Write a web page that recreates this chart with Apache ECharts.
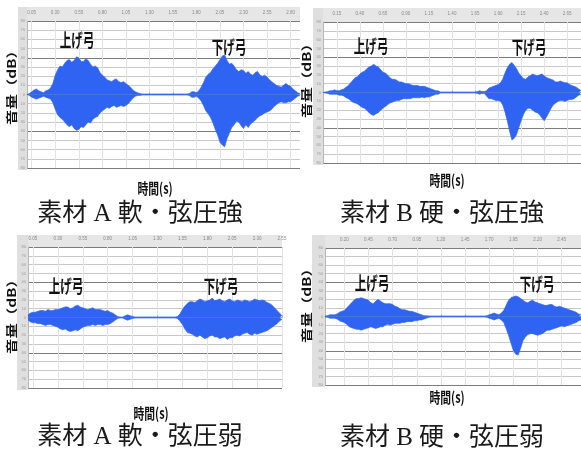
<!DOCTYPE html>
<html>
<head>
<meta charset="utf-8">
<script src="https://cdn.jsdelivr.net/npm/echarts@6/dist/echarts.min.js"></script>
<style>
  html, body { margin: 0; padding: 0; background: #fff; }
  #chart { width: 581px; height: 456px; }
</style>
</head>
<body>
<div id="chart"></div>
<script>
// Waveform envelopes (upper / lower peak level per sample), one pair per recording.
// 素材 A 軟・弦圧強
const upperSoftStrong = [
  0, 1, 3, 5, 6, 4, 3, 2, 4, 5, 7, 12, 21, 27, 31, 30, 34, 37, 38, 35,
  37, 41, 40, 36, 36, 39, 37, 33, 30, 31, 29, 24, 21, 19, 16, 15, 14, 16, 17, 14,
  13, 14, 12, 10, 8, 5, 3, 2, 1, 0.6,
  0.6, 0.6, 0.6, 0.6, 0.6, 0.6, 0.6, 0.6, 0.6, 0.6, 0.6, 0.6, 0.6, 0.6, 0.6, 0.6, 0.6, 0.6, 0.6, 1,
  3, 3, 2, 4, 8, 13, 19, 22, 24, 28, 31, 34, 38, 42, 43, 37, 33, 34, 31, 27,
  25, 27, 26, 23, 25, 22, 21, 24, 25, 21, 20, 21, 19, 16, 14, 12, 10, 9, 8, 10,
  12, 10, 9, 6, 4, 2, 1];
const lowerSoftStrong = [
  0, -1, -3, -4, -5, -4, -3, -2, -3, -4, -5, -9, -16, -22, -25, -27, -30, -33, -35, -33,
  -37, -39, -38, -35, -36, -33, -30, -31, -27, -25, -24, -20, -18, -16, -14, -15, -13, -12, -14, -13,
  -12, -13, -12, -10, -7, -4, -2, -1, -1, -0.6,
  -0.6, -0.6, -0.6, -0.6, -0.6, -0.6, -0.6, -0.6, -0.6, -0.6, -0.6, -0.6, -0.6, -0.6, -0.6, -0.6, -0.6, -0.6, -0.6, -1,
  -3, -3, -2, -4, -7, -12, -18, -21, -25, -31, -38, -44, -52, -55, -57, -48, -42, -36, -33, -29,
  -30, -34, -37, -33, -36, -32, -30, -28, -25, -23, -22, -20, -19, -18, -16, -13, -11, -9, -8, -9,
  -9, -8, -8, -6, -4, -2, -1];

// 素材 B 硬・弦圧強
const upperHardStrong = [
  0, 0.6, 1, 2, 2, 3, 2, 2, 3, 4, 6, 8, 11, 14, 17, 18, 21, 23, 24, 27,
  29, 30, 32, 30, 29, 26, 23, 22, 20, 17, 15, 15, 14, 12, 12, 11, 10, 10, 9, 8,
  8, 8, 7, 7, 7, 6, 5, 4, 3, 2, 2, 0.6,
  0.6, 0.6, 0.6, 0.6, 0.6, 0.6, 0.6, 0.6, 0.6, 0.6, 0.6, 0.6, 0.6, 0.6, 0.6, 1,
  2, 1, 1, 2, 5, 6, 7, 8, 9, 11, 15, 22, 28, 32, 34, 31, 27, 22, 19, 16,
  15, 18, 19, 21, 20, 19, 20, 21, 19, 17, 16, 15, 14, 12, 12, 13, 12, 11, 11, 9,
  8, 7, 6, 4, 2];
const lowerHardStrong = [
  0, -0.6, -1, -2, -2, -2, -2, -3, -3, -4, -6, -7, -9, -11, -12, -13, -15, -17, -18, -20,
  -23, -25, -26, -24, -23, -20, -18, -16, -14, -12, -11, -10, -9, -9, -8, -7, -7, -7, -7, -6,
  -6, -6, -6, -5, -6, -5, -5, -4, -3, -2, -2, -0.6,
  -0.6, -0.6, -0.6, -0.6, -0.6, -0.6, -0.6, -0.6, -0.6, -0.6, -0.6, -0.6, -0.6, -0.6, -0.6, -1,
  -2, -1, -1, -4, -7, -7, -8, -9, -9, -10, -14, -22, -32, -44, -54, -52, -48, -40, -32, -25,
  -20, -18, -18, -20, -22, -23, -25, -29, -32, -28, -23, -18, -14, -12, -10, -9, -9, -10, -9, -8,
  -8, -7, -5, -3, -2];

// 素材 A 軟・弦圧弱
const upperSoftWeak = [
  3, 5, 6, 6, 7, 8, 8, 7, 9, 8, 8, 9, 9, 10, 11, 12, 12, 10, 11, 13,
  14, 12, 11, 10, 9, 10, 11, 9, 9, 9, 8, 7, 8, 6, 5, 3, 1, 0.6, 0.6, 2,
  3, 2, 1, 0.6,
  0.6, 0.6, 0.6, 0.6, 0.6, 0.6, 0.6, 0.6, 0.6, 0.6, 0.6, 0.6, 0.6, 0.6, 0.6, 0.6,
  1, 4, 9, 13, 16, 18, 18, 17, 19, 21, 20, 18, 19, 20, 22, 19, 20, 21, 19, 18,
  20, 21, 19, 18, 20, 19, 18, 20, 19, 18, 19, 21, 20, 19, 20, 19, 17, 16, 14, 11,
  8, 5, 2];
const lowerSoftWeak = [
  -3, -5, -6, -6, -7, -7, -8, -9, -8, -8, -9, -10, -11, -13, -14, -13, -15, -16, -15, -14,
  -15, -13, -11, -10, -9, -9, -8, -9, -8, -8, -9, -8, -8, -7, -5, -3, -1, -0.6, -0.6, -2,
  -3, -2, -1, -0.6,
  -0.6, -0.6, -0.6, -0.6, -0.6, -0.6, -0.6, -0.6, -0.6, -0.6, -0.6, -0.6, -0.6, -0.6, -0.6, -0.6,
  -1, -4, -8, -13, -17, -18, -19, -21, -22, -20, -22, -24, -23, -21, -20, -22, -22, -24, -23, -22,
  -25, -23, -23, -21, -20, -21, -19, -18, -17, -19, -20, -18, -19, -18, -17, -16, -15, -13, -11, -9,
  -7, -4, -2];

// 素材 B 硬・弦圧弱
const upperHardWeak = [
  0.6, 1, 2, 2, 2, 3, 5, 6, 7, 10, 13, 16, 19, 21, 21, 22, 21, 20, 19, 16,
  15, 18, 20, 18, 16, 15, 15, 15, 14, 12, 11, 9, 8, 8, 7, 6, 6, 5, 4, 3,
  2, 1, 1, 0.6,
  0.6, 0.6, 0.6, 0.6, 0.6, 0.6, 0.6, 0.6, 0.6, 0.6, 0.6, 0.6, 0.6, 0.6, 0.6, 0.6, 0.6, 0.6, 0.6, 0.6, 0.6, 0.6, 0.6, 1,
  2, 3, 4, 3, 2, 4, 7, 13, 19, 22, 23, 24, 23, 21, 19, 17, 16, 18, 19, 17,
  16, 15, 14, 13, 13, 14, 14, 12, 11, 12, 11, 10, 9, 8, 7, 6, 5, 3,
  2];
const lowerHardWeak = [
  -0.6, -1, -2, -2, -2, -3, -5, -6, -7, -9, -12, -13, -14, -15, -15, -16, -15, -14, -13, -12,
  -13, -14, -13, -12, -12, -10, -9, -10, -9, -8, -8, -8, -7, -7, -6, -6, -6, -5, -5, -4,
  -4, -3, -2, -1,
  -0.6, -0.6, -0.6, -0.6, -0.6, -0.6, -0.6, -0.6, -0.6, -0.6, -0.6, -0.6, -0.6, -0.6, -0.6, -0.6, -0.6, -0.6, -0.6, -0.6, -0.6, -0.6, -0.6, -1,
  -2, -3, -4, -3, -2, -4, -7, -14, -22, -31, -40, -44, -45, -37, -28, -24, -21, -20, -20, -21,
  -22, -21, -20, -18, -16, -16, -15, -14, -13, -12, -11, -12, -11, -10, -9, -8, -7, -5,
  -4];

const captions = ['素材 A 軟・弦圧強', '素材 B 硬・弦圧強', '素材 A 軟・弦圧弱', '素材 B 硬・弦圧弱'];
const bowUpLabel = '上げ弓';
const bowDownLabel = '下げ弓';
const yAxisTitle = '音量（dB）';
const xAxisTitle = '時間(s)';

const SAMPLE_STEP = 0.025;  // seconds between envelope samples
const GRID_EVERY = 10;      // a ruler mark every 10 samples
const BLUE = '#2f64f3';

// Layout of the four editor views
const panels = [
  { upper: upperSoftStrong, lower: lowerSoftStrong, caption: captions[0],
    grid: { left: 27, top: 21, width: 273, height: 147 }, stripLeft: 18, rulerTop: 7, firstMark: 2,
    yName: [12, 84], xName: [155, 188], captionAt: [140, 214], bowUp: [77, 40], bowDown: [229, 47] },
  { upper: upperHardStrong, lower: lowerHardStrong, caption: captions[1],
    grid: { left: 323, top: 22, width: 258, height: 141 }, stripLeft: 313, rulerTop: 8, firstMark: 6,
    yName: [307, 77], xName: [447, 180], captionAt: [442, 214], bowUp: [371, 46], bowDown: [529, 47] },
  { upper: upperSoftWeak, lower: lowerSoftWeak, caption: captions[2],
    grid: { left: 28, top: 247, width: 254, height: 141 }, stripLeft: 17, rulerTop: 235, firstMark: 2,
    yName: [12, 313], xName: [151, 413], captionAt: [140, 437], bowUp: [66, 286], bowDown: [221, 286] },
  { upper: upperHardWeak, lower: lowerHardWeak, caption: captions[3],
    grid: { left: 325, top: 248, width: 256, height: 137 }, stripLeft: 312, rulerTop: 235, firstMark: 8,
    yName: [307, 302], xName: [447, 397], captionAt: [442, 438], bowUp: [372, 283], bowDown: [537, 284] }
];

const grids = [], xAxes = [], yAxes = [], series = [], graphics = [];

panels.forEach((p, k) => {
  const times = p.upper.map((_, i) => (i * SAMPLE_STEP).toFixed(2));
  const onMark = (idx) => idx >= p.firstMark && (idx - p.firstMark) % GRID_EVERY === 0;

  grids.push(Object.assign({ containLabel: false }, p.grid));

  xAxes.push({
    type: 'category', gridIndex: k, position: 'top', data: times, boundaryGap: false,
    axisLine: { lineStyle: { color: '#9c9c9c', width: 1 } },
    axisTick: { interval: onMark, length: 2, lineStyle: { color: '#a8a8a8' } },
    axisLabel: { interval: onMark, fontSize: 4.5, color: '#8a8a8a', margin: 6 },
    splitLine: { show: true, interval: onMark, lineStyle: { color: '#e2e2e2', width: 1 } }
  });

  yAxes.push({
    type: 'value', gridIndex: k, min: -80, max: 80, interval: 10,
    axisLine: { show: true, lineStyle: { color: '#b8b8b8' } },
    axisTick: { show: false },
    axisLabel: { fontSize: 4, color: '#9a9a9a', margin: 2, formatter: v => String(Math.abs(v)) },
    splitLine: { lineStyle: { color: ['#7c7c7c', '#c8c8c8', '#c8c8c8', '#c8c8c8'], width: 1 } }
  });

  [p.upper, p.lower].forEach(env => {
    series.push({
      type: 'line', xAxisIndex: k, yAxisIndex: k, data: env,
      symbol: 'none', silent: true, z: 3,
      lineStyle: { color: BLUE, width: 1, opacity: 0.65 },
      areaStyle: { color: BLUE, opacity: 1, origin: 0 }
    });
  });

  const g = p.grid;
  // ruler band above the track and level strip on its left
  graphics.push({ type: 'rect', z: -10, shape: { x: p.stripLeft, y: p.rulerTop, width: g.left + g.width - p.stripLeft, height: g.top - p.rulerTop },
    style: { fill: '#e6e6e6' } });
  graphics.push({ type: 'rect', z: -10, shape: { x: p.stripLeft, y: p.rulerTop, width: g.left - p.stripLeft, height: g.top + g.height + 2 - p.rulerTop },
    style: { fill: '#dfdfdf' } });

  const boldFont = { fontFamily: "'Noto Sans CJK JP', sans-serif", fontWeight: 'bold', fill: '#111', align: 'center', verticalAlign: 'middle' };
  graphics.push({ type: 'text', z: 20, x: p.yName[0], y: p.yName[1], rotation: Math.PI / 2, scaleX: 1.1, scaleY: 0.8,
    style: Object.assign({ text: yAxisTitle, fontSize: 14 }, boldFont) });
  graphics.push({ type: 'text', z: 20, x: p.xName[0], y: p.xName[1], scaleX: 0.72,
    style: Object.assign({ text: xAxisTitle, fontSize: 15 }, boldFont) });
  graphics.push({ type: 'text', z: 20, x: p.bowUp[0], y: p.bowUp[1], scaleX: 0.64,
    style: Object.assign({ text: bowUpLabel, fontSize: 18 }, boldFont) });
  graphics.push({ type: 'text', z: 20, x: p.bowDown[0], y: p.bowDown[1], scaleX: 0.64,
    style: Object.assign({ text: bowDownLabel, fontSize: 18 }, boldFont) });
  graphics.push({ type: 'text', z: 20, x: p.captionAt[0], y: p.captionAt[1],
    style: { text: p.caption, fontSize: 25, fontFamily: "'Liberation Serif', 'Noto Sans CJK JP', serif",
      fill: '#1a1a1a', align: 'center', verticalAlign: 'middle' } });
});

const chart = echarts.init(document.getElementById('chart'), null, { renderer: 'canvas' });
chart.setOption({
  animation: false,
  backgroundColor: '#ffffff',
  grid: grids,
  xAxis: xAxes,
  yAxis: yAxes,
  series: series,
  graphic: graphics
});
</script>
</body>
</html>
